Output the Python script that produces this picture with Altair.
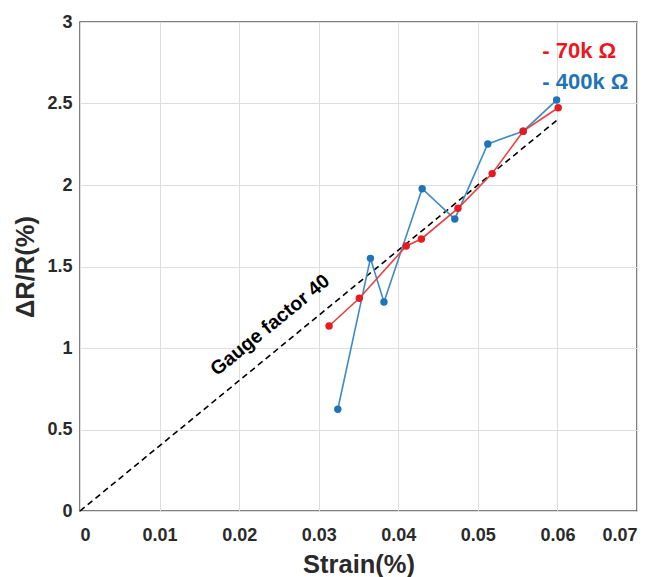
import altair as alt
import pandas as pd

# data
red_x = [0.0313, 0.0351, 0.0410, 0.0429, 0.0475, 0.0518, 0.0557, 0.0601]
red_y = [1.135, 1.305, 1.626, 1.669, 1.857, 2.07, 2.33, 2.474]
blue_x = [0.0324, 0.0365, 0.0382, 0.0430, 0.0471, 0.05125, 0.0557, 0.0599]
blue_y = [0.624, 1.55, 1.282, 1.977, 1.791, 2.252, 2.33, 2.521]
gauge_x = [0.0, 0.06]
gauge_y = [0.0, 2.4]
x_ticks = [0, 0.01, 0.02, 0.03, 0.04, 0.05, 0.06, 0.07]
y_ticks = [0, 0.5, 1, 1.5, 2, 2.5, 3]

legend_labels = ["- 70k \u03a9", "- 400k \u03a9"]
legend_x = [0.0581, 0.0581]
legend_y = [2.82, 2.63]
legend_colors = ["#e8191f", "#1f73b7"]

note_text = ["Gauge factor 40"]
note_x = [0.0239]
note_y = [1.14]

FONT = "Liberation Sans"
RED = "#e8191f"
RED_LINE = "#e8403f"
BLUE = "#1f73b7"
BLUE_LINE = "#3d8cc6"

red_df = pd.DataFrame({"x": red_x, "y": red_y})
blue_df = pd.DataFrame({"x": blue_x, "y": blue_y})
gauge_df = pd.DataFrame({"x": gauge_x, "y": gauge_y})
leg_df = pd.DataFrame({"label": legend_labels, "x": legend_x, "y": legend_y, "c": legend_colors})
note_df = pd.DataFrame({"t": note_text, "x": note_x, "y": note_y})

xscale = alt.Scale(domain=[0, 0.07], nice=False, zero=False)
yscale = alt.Scale(domain=[0, 3], nice=False, zero=False)

common = dict(labelFont=FONT, labelFontSize=18, labelFontWeight="bold", labelColor="#2a2a2a",
              titleFont=FONT, titleFontSize=25.5, titleFontWeight="bold", titleColor="#2a2a2a",
              gridColor="#dedede", gridWidth=1, grid=True, ticks=False, domain=False,
              format="~g")
xaxis = alt.Axis(values=x_ticks, title="Strain(%)", labelPadding=15, titlePadding=8, **common)
yaxis = alt.Axis(values=y_ticks, title="\u0394R/R(%)", labelPadding=8, titlePadding=8, **common)

X = alt.X("x:Q", scale=xscale, axis=xaxis)
Y = alt.Y("y:Q", scale=yscale, axis=yaxis)

gauge = alt.Chart(gauge_df).mark_line(color="black", strokeDash=[6, 4], strokeWidth=1.6).encode(x=X, y=Y)

blue_line = alt.Chart(blue_df).mark_line(color=BLUE_LINE, strokeWidth=1.6).encode(x=X, y=Y)
blue_pts = alt.Chart(blue_df).mark_circle(color=BLUE, size=55, opacity=1).encode(x=X, y=Y)
red_line = alt.Chart(red_df).mark_line(color=RED_LINE, strokeWidth=1.6).encode(x=X, y=Y)
red_pts = alt.Chart(red_df).mark_circle(color=RED, size=55, opacity=1).encode(x=X, y=Y)

legend = alt.Chart(leg_df).mark_text(align="left", baseline="middle", font=FONT,
                                     fontWeight="bold", fontSize=22).encode(
    x=X, y=Y, text="label:N", color=alt.Color("c:N", scale=None))

note = alt.Chart(note_df).mark_text(align="center", baseline="middle", font=FONT,
                                    fontWeight="bold", fontSize=19.5, angle=320.7,
                                    color="black").encode(x=X, y=Y, text="t:N")

chart = alt.layer(gauge, blue_line, blue_pts, red_line, red_pts, legend, note).properties(
    width=557, height=489,
    background="white",
    autosize=alt.AutoSizeParams(type="none"),
    padding={"left": 72, "top": 14, "right": 10, "bottom": 66},
).configure_view(
    stroke="#555555", strokeWidth=1.5
)

chart.save("out.html", embed_options={"renderer": "svg", "actions": False})
